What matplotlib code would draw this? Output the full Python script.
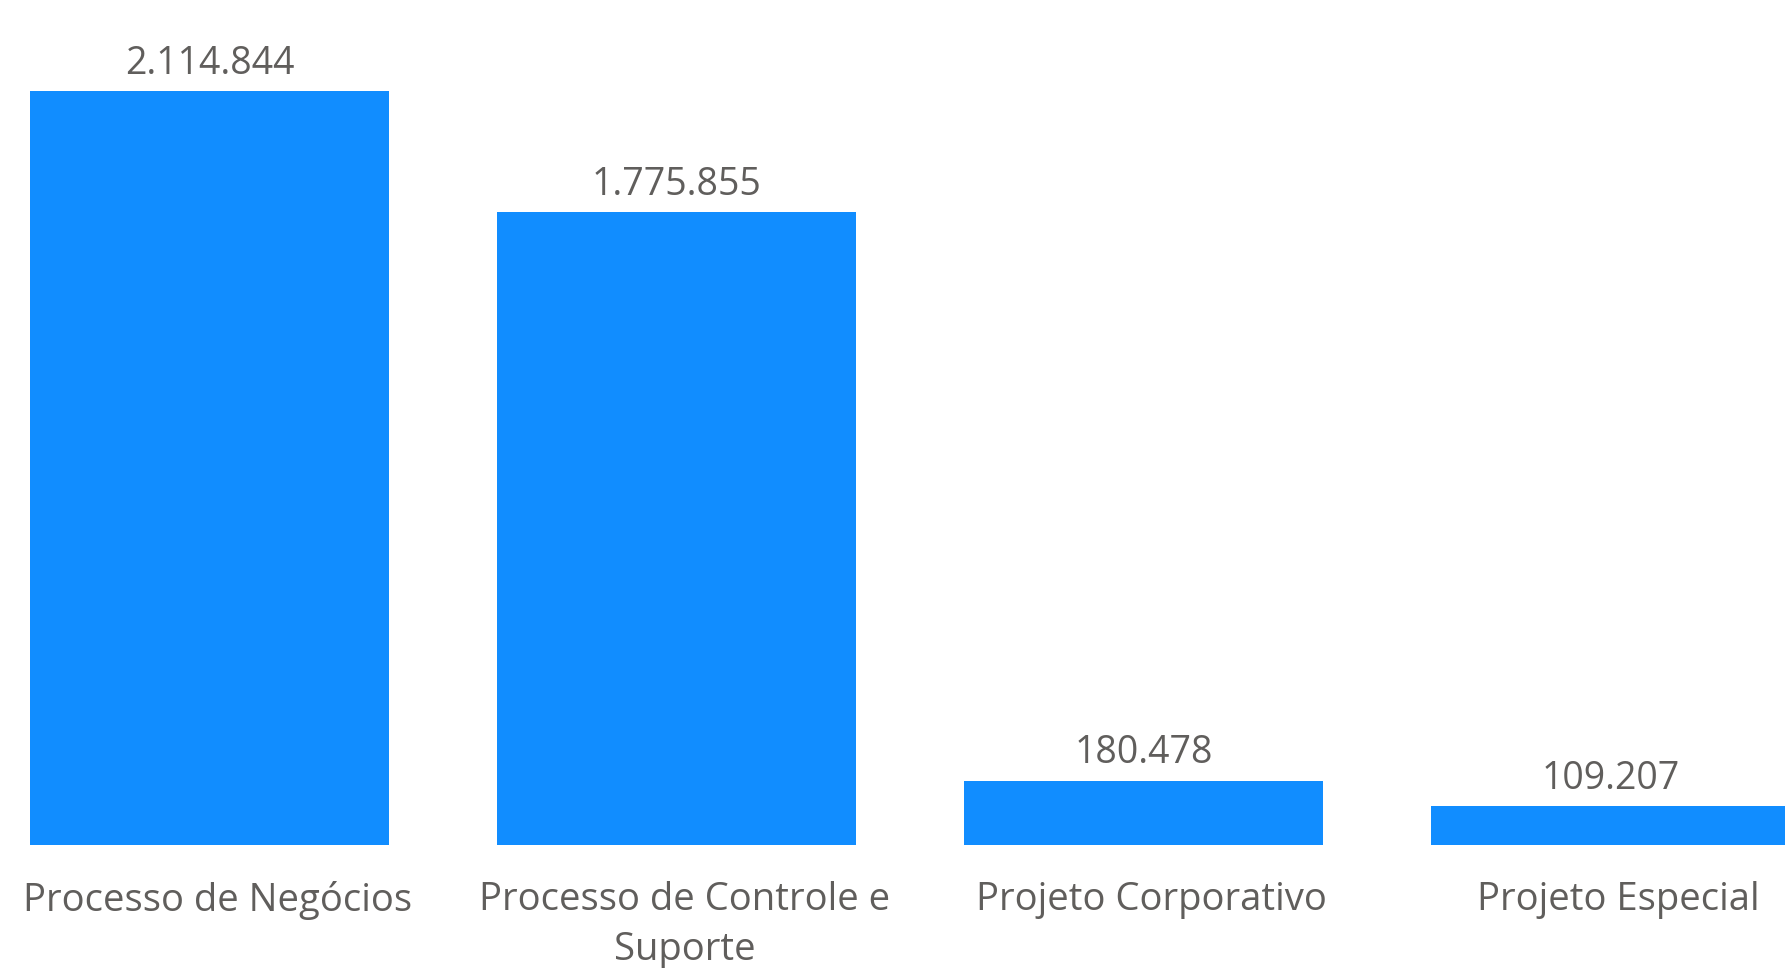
import matplotlib
matplotlib.use("Agg")
import matplotlib.pyplot as plt
import matplotlib.transforms as mtrans

categories = ["Processo de Negócios", "Processo de Controle e\nSuporte",
              "Projeto Corporativo", "Projeto Especial"]
values = [2114844, 1775855, 180478, 109207]

bar_color = "#118DFF"
text_color = "#605E5C"

plt.rcParams["font.family"] = ["Open Sans", "DejaVu Sans"]

fig = plt.figure(figsize=(17.85, 9.68), dpi=100)
ax = fig.add_axes([0, 0.127, 1, 0.873])

x = range(len(values))
bars = ax.bar(x, values, width=0.77, color=bar_color)

labels = [f"{v:,}".replace(",", ".") for v in values]
ax.bar_label(bars, labels=labels, padding=6, fontsize=27, color=text_color)

ax.set_xlim(-0.4486, 3.3737)
ax.set_ylim(0, 2114844 * 845 / 754)
ax.set_xticks(list(x))
ax.set_xticklabels(categories, fontsize=27.5, color=text_color, linespacing=1.4)
ax.tick_params(axis="x", length=0, pad=26)
ax.set_yticks([])
for s in ax.spines.values():
    s.set_visible(False)

# category labels sit a little right of the bar centres in the original
shift = mtrans.ScaledTranslation(0.08, 0, fig.dpi_scale_trans)
for lbl in ax.get_xticklabels():
    lbl.set_transform(lbl.get_transform() + shift)

fig.savefig("out.png", dpi=100)
